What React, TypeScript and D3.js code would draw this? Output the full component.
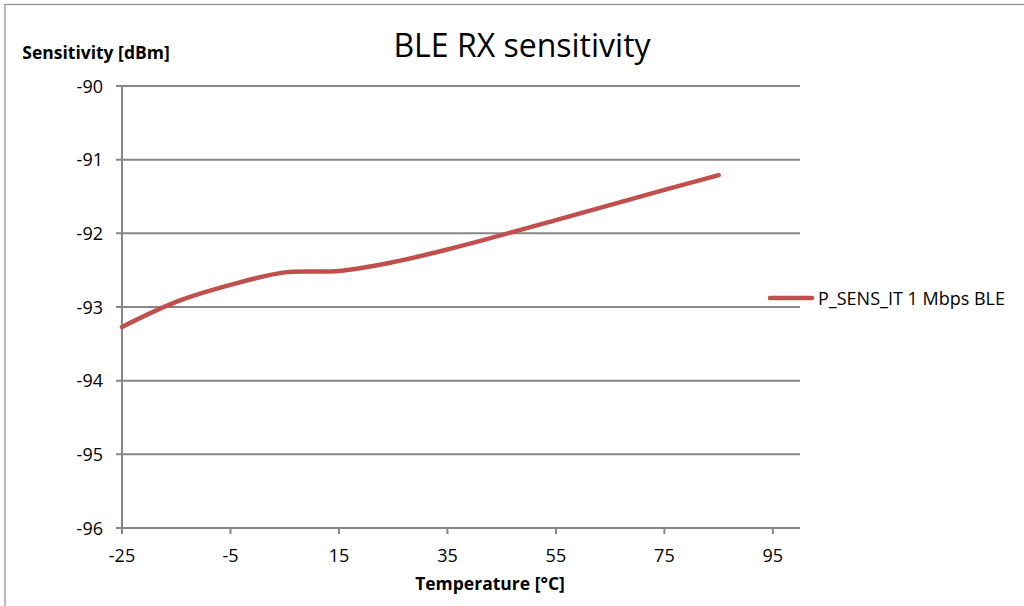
import { useEffect, useRef } from "react";
import * as d3 from "d3";

const temps = [-25, -15, -5, 5, 15, 25, 35, 55, 75, 85];
const sensitivity = [-93.27, -92.93, -92.7, -92.53, -92.51, -92.39, -92.22, -91.82, -91.41, -91.21];
const xTicks = [-25, -5, 15, 35, 55, 75, 95];
const yTicks = [-90, -91, -92, -93, -94, -95, -96];
const seriesName = "P_SENS_IT 1 Mbps BLE";

const W = 1024;
const H = 606;
const plot = { left: 122, right: 800, top: 86, bottom: 528 };
const font = "'Open Sans', 'Noto Sans', sans-serif";
const grid = "#878787";

const App = () => {
  const ref = useRef<SVGSVGElement>(null);

  useEffect(() => {
    const svg = d3.select(ref.current);
    svg.selectAll("*").remove();

    const x = d3.scaleLinear().domain([-25, 100]).range([plot.left, plot.right]);
    const y = d3.scaleLinear().domain([-96, -90]).range([plot.bottom, plot.top]);

    // chart frame
    svg
      .append("rect")
      .attr("x", 5)
      .attr("y", 4.5)
      .attr("width", W + 10)
      .attr("height", H + 10)
      .attr("fill", "white")
      .attr("stroke", "#8c8c8c")
      .attr("stroke-width", 1.2);

    // horizontal gridlines
    svg
      .append("g")
      .selectAll("line")
      .data(yTicks)
      .join("line")
      .attr("x1", plot.left - 6)
      .attr("x2", plot.right)
      .attr("y1", (d) => y(d))
      .attr("y2", (d) => y(d))
      .attr("stroke", grid)
      .attr("stroke-width", 2);

    // y axis line
    svg
      .append("line")
      .attr("x1", plot.left)
      .attr("x2", plot.left)
      .attr("y1", plot.top)
      .attr("y2", plot.bottom + 6)
      .attr("stroke", grid)
      .attr("stroke-width", 2);

    // x tick marks
    svg
      .append("g")
      .selectAll("line")
      .data(xTicks)
      .join("line")
      .attr("x1", (d) => x(d))
      .attr("x2", (d) => x(d))
      .attr("y1", plot.bottom)
      .attr("y2", plot.bottom + 6)
      .attr("stroke", grid)
      .attr("stroke-width", 2);

    // y labels
    svg
      .append("g")
      .selectAll("text")
      .data(yTicks)
      .join("text")
      .attr("x", 103)
      .attr("y", (d) => y(d) + 6.5)
      .attr("text-anchor", "end")
      .attr("font-family", font)
      .attr("font-size", 18)
      .text((d) => d);

    // x labels
    svg
      .append("g")
      .selectAll("text")
      .data(xTicks)
      .join("text")
      .attr("x", (d) => x(d))
      .attr("y", 562)
      .attr("text-anchor", "middle")
      .attr("font-family", font)
      .attr("font-size", 18)
      .text((d) => d);

    const pts = temps.map((t, i) => [t, sensitivity[i]] as [number, number]);
    const line = d3
      .line<[number, number]>()
      .x((d) => x(d[0]))
      .y((d) => y(d[1]))
      .curve(d3.curveCatmullRom.alpha(0.5));

    svg
      .append("path")
      .datum(pts)
      .attr("d", line)
      .attr("fill", "none")
      .attr("stroke", "#C0504D")
      .attr("stroke-width", 4.5)
      .attr("stroke-linecap", "round");

    // titles
    svg
      .append("text")
      .attr("x", 522)
      .attr("y", 57)
      .attr("text-anchor", "middle")
      .attr("font-family", font)
      .attr("font-size", 32)
      .text("BLE RX sensitivity");

    svg
      .append("text")
      .attr("x", 96)
      .attr("y", 59)
      .attr("text-anchor", "middle")
      .attr("font-family", font)
      .attr("font-weight", "bold")
      .attr("font-size", 17.5)
      .text("Sensitivity [dBm]");

    svg
      .append("text")
      .attr("x", 490)
      .attr("y", 590)
      .attr("text-anchor", "middle")
      .attr("font-family", font)
      .attr("font-weight", "bold")
      .attr("font-size", 17.5)
      .text("Temperature [°C]");

    // legend
    const ly = 298;
    svg
      .append("line")
      .attr("x1", 770)
      .attr("x2", 812)
      .attr("y1", ly)
      .attr("y2", ly)
      .attr("stroke", "#C0504D")
      .attr("stroke-width", 4.5)
      .attr("stroke-linecap", "round");
    svg
      .append("text")
      .attr("x", 818)
      .attr("y", ly + 6.5)
      .attr("font-family", font)
      .attr("font-size", 18)
      .text(seriesName);
  }, []);

  return (
    <svg
      ref={ref}
      width={W}
      height={H}
      style={{ position: "absolute", left: 0, top: 0, background: "white" }}
    />
  );
};

export default App;
